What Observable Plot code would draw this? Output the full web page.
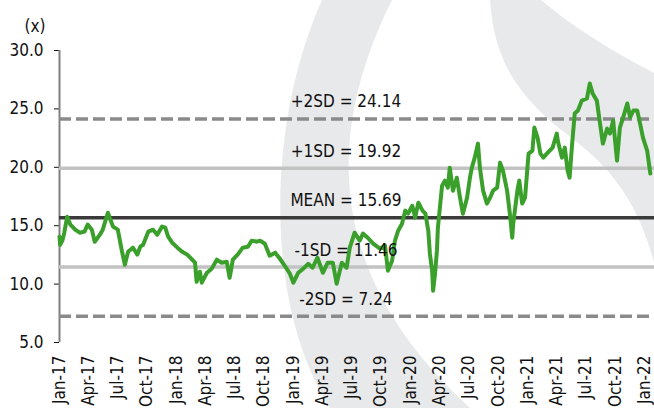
<!DOCTYPE html>
<html>
<head>
<meta charset="utf-8">
<script src="https://cdn.jsdelivr.net/npm/d3@7"></script>
<script src="https://cdn.jsdelivr.net/npm/@observablehq/plot@0.6"></script>
<style>
  html, body { margin: 0; padding: 0; background: #fff; }
  #wrap { position: relative; width: 654px; height: 408px; overflow: hidden; }
  #wm { position: absolute; left: 0; top: 0; z-index: 0; }
  #chart { position: absolute; left: 0; top: 0; z-index: 1; }
</style>
</head>
<body>
<div id="wrap">
  <svg id="wm" width="654" height="408" viewBox="0 0 654 408">
    <path fill="#e8e9ea" d="M322,0 C268,120 262,300 330,408 L470,408 C385,330 292,200 392,0 Z"/>
    <path fill="#e8e9ea" d="M490,0 C494,55 512,88 555,125 C590,152 632,180 654,262 L654,73 C610,50 570,25 541,0 Z"/>
  </svg>
  <div id="chart"></div>
</div>
<script>
const dates = [
"2017-01-01","2017-01-03","2017-01-10","2017-01-16","2017-01-25","2017-02-04","2017-02-19","2017-03-05","2017-03-20","2017-03-30",
"2017-04-12","2017-04-21","2017-05-07","2017-05-16","2017-06-01","2017-06-17","2017-07-02","2017-07-14","2017-07-24","2017-08-03",
"2017-08-18","2017-09-01","2017-09-10","2017-09-19","2017-10-05","2017-10-20","2017-11-02","2017-11-17","2017-11-27","2017-12-06",
"2017-12-19","2018-01-04","2018-01-19","2018-02-04","2018-02-19","2018-02-28","2018-03-05","2018-03-15","2018-03-21","2018-04-06",
"2018-04-21","2018-05-07","2018-05-22","2018-06-07","2018-06-16","2018-06-26","2018-07-11","2018-07-27","2018-08-12","2018-08-24",
"2018-09-09","2018-09-19","2018-10-04","2018-10-19","2018-11-05","2018-11-20","2018-12-05","2018-12-21","2019-01-01","2019-01-16",
"2019-02-01","2019-02-16","2019-03-02","2019-03-17","2019-04-03","2019-04-18","2019-05-04","2019-05-16","2019-06-01","2019-06-16",
"2019-06-26","2019-07-11","2019-07-27","2019-08-06","2019-08-21","2019-09-07","2019-09-28","2019-10-14","2019-10-23","2019-11-05",
"2019-11-14","2019-11-24","2019-12-06","2019-12-16","2019-12-25","2020-01-07","2020-01-16","2020-01-26","2020-02-08","2020-02-17",
"2020-02-26","2020-03-02","2020-03-09","2020-03-12","2020-03-18","2020-03-24","2020-03-27","2020-04-09","2020-04-18","2020-04-27",
"2020-05-03","2020-05-13","2020-05-25","2020-06-04","2020-06-13","2020-06-26","2020-07-05","2020-07-11","2020-07-20","2020-07-30",
"2020-08-05","2020-08-15","2020-08-27","2020-09-06","2020-09-15","2020-09-28","2020-10-07","2020-10-16","2020-10-29","2020-11-08",
"2020-11-14","2020-11-17","2020-11-30","2020-12-06","2020-12-15","2020-12-24","2021-01-04","2021-01-16","2021-01-22","2021-02-01",
"2021-02-10","2021-02-19","2021-03-02","2021-03-11","2021-03-20","2021-04-02","2021-04-05","2021-04-18","2021-04-27","2021-05-06",
"2021-05-12","2021-05-19","2021-05-28","2021-06-07","2021-06-19","2021-07-05","2021-07-14","2021-07-23","2021-08-05","2021-08-15",
"2021-08-24","2021-09-06","2021-09-15","2021-09-25","2021-10-07","2021-10-16","2021-10-26","2021-11-08","2021-11-17","2021-11-27",
"2021-12-09","2021-12-18","2021-12-27","2022-01-09","2022-01-19"
];
const values = [
14.06,13.37,13.72,14.40,15.77,15.09,14.66,14.40,14.49,15.09,
14.66,13.63,14.23,14.66,16.11,14.92,14.66,12.94,11.66,12.77,
13.12,12.52,13.20,13.37,14.49,14.66,14.23,14.92,14.83,14.06,
13.54,13.12,12.77,12.52,12.09,11.83,10.20,11.06,10.12,10.97,
11.32,12.09,11.83,11.92,10.54,12.09,12.52,13.12,13.20,13.72,
13.63,13.72,13.46,12.43,12.69,12.17,11.57,10.89,10.12,10.97,
11.32,11.74,11.40,12.26,10.97,11.83,11.83,10.03,11.83,11.40,
13.12,14.40,13.72,14.32,13.97,13.46,13.03,13.29,11.14,12.00,
13.72,14.57,15.17,16.29,16.03,16.71,15.69,16.97,16.29,16.03,
14.57,12.60,11.14,9.43,10.89,12.86,14.83,18.43,18.86,18.26,
19.97,18.00,19.11,17.40,16.03,17.40,19.11,19.97,20.83,22.03,
19.97,18.00,16.89,17.40,18.00,18.26,20.40,19.71,18.00,15.69,
13.97,15.17,18.00,18.86,16.89,17.40,21.17,21.43,23.40,22.54,
21.17,20.83,21.17,21.43,21.69,22.89,22.29,20.83,21.69,19.71,
19.11,21.69,24.60,24.86,25.71,25.89,27.17,26.31,25.71,23.74,
22.03,23.31,22.89,24.00,20.57,23.40,24.26,25.46,24.26,24.86,
24.86,23.74,22.54,21.43,19.46
];
const levelValues = [24.14, 19.92, 15.69, 11.46, 7.24];
const levelLabels = ["+2SD = 24.14", "+1SD = 19.92", "MEAN = 15.69", "-1SD = 11.46", "-2SD = 7.24"];
const levelKinds = ["sd2", "sd1", "mean", "sd1", "sd2"];
const xTickDates = [
"2017-01-01","2017-04-01","2017-07-01","2017-10-01","2018-01-01","2018-04-01","2018-07-01","2018-10-01",
"2019-01-01","2019-04-01","2019-07-01","2019-10-01","2020-01-01","2020-04-01","2020-07-01","2020-10-01",
"2021-01-01","2021-04-01","2021-07-01","2021-10-01","2022-01-01"
];
const yTicks = [5, 10, 15, 20, 25, 30];
const yUnit = "(x)";
const labelDate = "2019-06-14";

const series = dates.map((d, i) => ({date: new Date(d), value: values[i]}));
const levels = levelValues.map((v, i) => ({value: v, label: levelLabels[i], kind: levelKinds[i]}));
const xStart = new Date("2017-01-01"), xEnd = new Date("2022-02-01");
const FONT = "'DejaVu Sans Condensed', 'DejaVu Sans', sans-serif";

const chart = Plot.plot({
  width: 654,
  height: 408,
  marginLeft: 59,
  marginRight: 0,
  marginTop: 50,
  marginBottom: 66,
  style: {background: "none", fontFamily: FONT, fontSize: "17px", color: "#111"},
  x: {
    type: "utc",
    domain: [xStart, xEnd],
    ticks: xTickDates.map(d => new Date(d)),
    tickFormat: d3.utcFormat("%b-%y"),
    tickRotate: -90,
    tickSize: 0,
    tickPadding: 13,
    label: null
  },
  y: {
    domain: [5, 30],
    ticks: yTicks,
    tickFormat: d3.format(".1f"),
    tickSize: 5,
    tickPadding: 11,
    label: null
  },
  marks: [
    Plot.ruleX([xStart], {y1: 5, y2: 30, stroke: "#808080", strokeWidth: 2}),
    Plot.ruleY(levels.filter(d => d.kind === "sd1"), {y: "value", stroke: "#c2c2c2", strokeWidth: 3.5}),
    Plot.ruleY(levels.filter(d => d.kind === "sd2"), {y: "value", stroke: "#8a8a8a", strokeWidth: 3.5, strokeDasharray: "12,5"}),
    Plot.ruleY(levels.filter(d => d.kind === "mean"), {y: "value", stroke: "#3a3a3a", strokeWidth: 3.5}),
    Plot.line(series, {x: "date", y: "value", stroke: "#3aa02b", strokeWidth: 4, strokeLinejoin: "round"}),
    Plot.text(levels, {x: () => new Date(labelDate), y: "value", text: "label", dy: -17, fontSize: 17, fill: "#111", textAnchor: "middle"}),
    Plot.text([yUnit], {frameAnchor: "top-left", text: d => d, dx: -35, dy: -31, textAnchor: "start", fontSize: 17, fill: "#111"})
  ]
});
document.getElementById("chart").appendChild(chart);
</script>
</body>
</html>
